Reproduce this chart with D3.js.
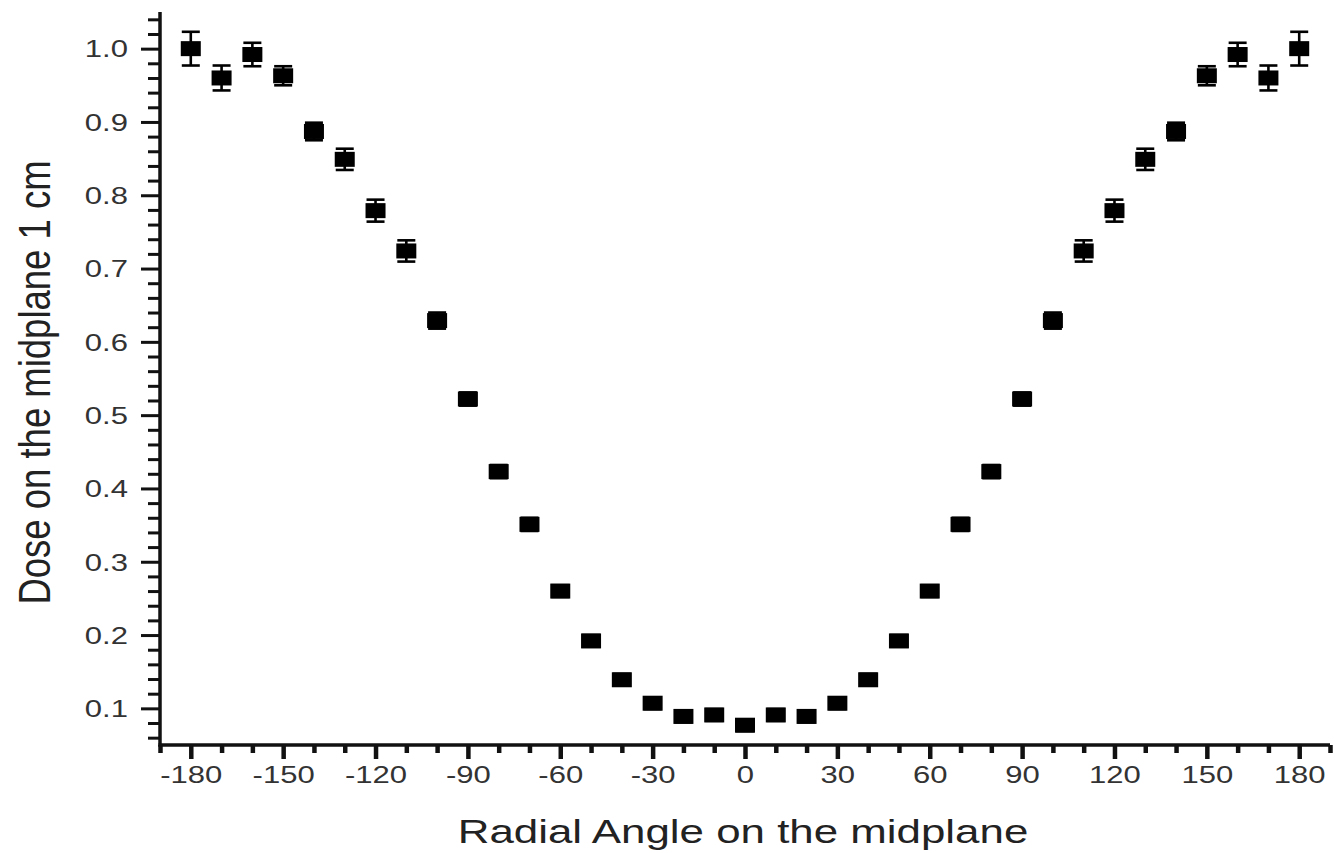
<!DOCTYPE html>
<html>
<head>
<meta charset="utf-8">
<script src="https://cdn.jsdelivr.net/npm/d3@7"></script>
<style>
  html, body { margin: 0; padding: 0; background: #fff; }
  svg { display: block; }
  text { font-family: "Liberation Sans", Arial, sans-serif; }
</style>
</head>
<body>
<svg id="chart" width="1337" height="853"></svg>
<script>
// Radial angle (degrees) around the midplane
const angles = [-180, -170, -160, -150, -140, -130, -120, -110, -100, -90,
                -80, -70, -60, -50, -40, -30, -20, -10, 0,
                10, 20, 30, 40, 50, 60, 70, 80, 90, 100,
                110, 120, 130, 140, 150, 160, 170, 180];
// Relative dose at 1 cm
const dose = [1.000, 0.960, 0.992, 0.963, 0.887, 0.849, 0.779, 0.724, 0.629, 0.522,
              0.423, 0.351, 0.260, 0.192, 0.139, 0.107, 0.089, 0.091, 0.077,
              0.091, 0.089, 0.107, 0.139, 0.192, 0.260, 0.351, 0.423, 0.522, 0.629,
              0.724, 0.779, 0.849, 0.887, 0.963, 0.992, 0.960, 1.000];
// Uncertainty (±) of each dose value
const doseErr = [0.023, 0.017, 0.016, 0.013, 0.012, 0.0145, 0.015, 0.0145, 0.011, 0.009,
                 0.009, 0.009, 0.008, 0.008, 0.008, 0.008, 0.008, 0.008, 0.008,
                 0.008, 0.008, 0.008, 0.008, 0.008, 0.008, 0.009, 0.009, 0.009, 0.011,
                 0.0145, 0.015, 0.0145, 0.012, 0.013, 0.016, 0.017, 0.023];

const xMajorTicks = [-180, -150, -120, -90, -60, -30, 0, 30, 60, 90, 120, 150, 180];
const xMinorTicks = d3.range(-190, 191, 10).filter(v => v % 30 !== 0);
const yMajorTicks = [0.1, 0.2, 0.3, 0.4, 0.5, 0.6, 0.7, 0.8, 0.9, 1.0];
const yMinorTicks = d3.range(3, 53).map(i => i * 0.02)
  .filter(v => Math.abs(v * 10 - Math.round(v * 10)) > 1e-6 && v > 0.05 && v < 1.05);

const xTitle = "Radial Angle on the midplane";
const yTitle = "Dose on the midplane 1 cm";

const points = angles.map((a, i) => ({ a, d: dose[i], e: doseErr[i] }));

const svg = d3.select("#chart");
const plotLeft = 160, plotRight = 1330, plotTop = 12, plotBottom = 745;
const x = d3.scaleLinear().domain([-190, 190]).range([plotLeft, plotRight]);
const y = d3.scaleLinear().domain([0.05, 1.05]).range([plotBottom, plotTop]);

const stretch = 1.35;   // horizontal widening of glyphs

// ---- x axis ----
const gx = svg.append("g").attr("transform", `translate(0,${plotBottom})`);
gx.call(d3.axisBottom(x).tickValues(xMajorTicks).tickSize(14).tickPadding(0)
          .tickFormat(d => String(d)));
const gxMinor = svg.append("g").attr("transform", `translate(0,${plotBottom})`);
gxMinor.call(d3.axisBottom(x).tickValues(xMinorTicks).tickSize(8).tickFormat(""));
[gx, gxMinor].forEach(g => {
  g.select(".domain").remove();
  g.selectAll(".tick line").attr("stroke", "#111").attr("stroke-width", 4.5);
});
gx.selectAll(".tick text")
  .attr("y", 0).attr("dy", 0)
  .attr("transform", `translate(0,38) scale(${stretch},1)`)
  .attr("fill", "#333").attr("font-size", 23)
  .attr("font-family", "'Liberation Sans', Arial, sans-serif");

// ---- y axis ----
const gy = svg.append("g").attr("transform", `translate(${plotLeft},0)`);
gy.call(d3.axisLeft(y).tickValues(yMajorTicks).tickSize(19).tickPadding(0)
          .tickFormat(d3.format(".1f")));
const gyMinor = svg.append("g").attr("transform", `translate(${plotLeft},0)`);
gyMinor.call(d3.axisLeft(y).tickValues(yMinorTicks).tickSize(12).tickFormat(""));
[gy, gyMinor].forEach(g => {
  g.select(".domain").remove();
  g.selectAll(".tick line").attr("stroke", "#111").attr("stroke-width", 3);
});
gy.selectAll(".tick text")
  .attr("x", 0).attr("dy", "0.36em")
  .attr("transform", `translate(-32,0) scale(${stretch},1)`)
  .attr("fill", "#333").attr("font-size", 23)
  .attr("font-family", "'Liberation Sans', Arial, sans-serif");

// axis lines
svg.append("line").attr("x1", plotLeft).attr("x2", plotLeft)
  .attr("y1", plotTop).attr("y2", plotBottom + 1.5)
  .attr("stroke", "#111").attr("stroke-width", 3.5);
svg.append("line").attr("x1", plotLeft - 1.5).attr("x2", plotRight)
  .attr("y1", plotBottom).attr("y2", plotBottom)
  .attr("stroke", "#111").attr("stroke-width", 3.5);

// ---- error bars ----
const capW = 18;
const eb = svg.append("g").attr("stroke", "#000").attr("stroke-width", 2.6);
eb.selectAll("line.v").data(points).join("line").attr("class", "v")
  .attr("x1", p => x(p.a)).attr("x2", p => x(p.a))
  .attr("y1", p => y(p.d + p.e)).attr("y2", p => y(p.d - p.e));
eb.selectAll("line.t").data(points).join("line").attr("class", "t")
  .attr("x1", p => x(p.a) - capW / 2).attr("x2", p => x(p.a) + capW / 2)
  .attr("y1", p => y(p.d + p.e)).attr("y2", p => y(p.d + p.e));
eb.selectAll("line.b").data(points).join("line").attr("class", "b")
  .attr("x1", p => x(p.a) - capW / 2).attr("x2", p => x(p.a) + capW / 2)
  .attr("y1", p => y(p.d - p.e)).attr("y2", p => y(p.d - p.e));

// ---- square markers ----
const mw = 20, mh = 15;
svg.append("g").selectAll("rect").data(points).join("rect")
  .attr("x", p => x(p.a) - mw / 2).attr("y", p => y(p.d) - mh / 2)
  .attr("width", mw).attr("height", mh).attr("fill", "#000");

// ---- titles ----
svg.append("text")
  .attr("transform", `translate(${(plotLeft + plotRight) / 2 - 2},843) scale(${stretch},1)`)
  .attr("text-anchor", "middle").attr("font-size", 32.5).attr("fill", "#222")
  .text(xTitle);

svg.append("text")
  .attr("transform", `translate(50,${(plotTop + plotBottom) / 2 + 4}) rotate(-90) scale(1,1.2)`)
  .attr("text-anchor", "middle").attr("font-size", 36.5).attr("fill", "#222")
  .text(yTitle);
</script>
</body>
</html>
